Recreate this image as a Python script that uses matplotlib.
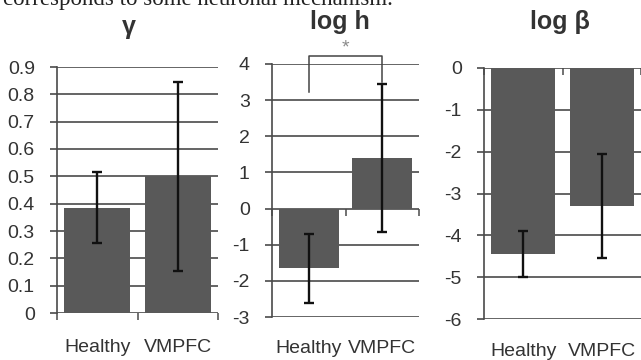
import matplotlib
matplotlib.use("Agg")
import matplotlib.pyplot as plt

# data
groups = ["Healthy", "VMPFC"]
gamma_mean = [0.385, 0.50]
gamma_err = [0.13, 0.345]
logh_mean = [-1.65, 1.40]
logh_err = [0.95, 2.05]
logbeta_mean = [-4.45, -3.30]
logbeta_err = [0.55, 1.25]

gamma_ticks = [0, 0.1, 0.2, 0.3, 0.4, 0.5, 0.6, 0.7, 0.8, 0.9]
logh_ticks = [-3, -2, -1, 0, 1, 2, 3, 4]
logbeta_ticks = [-6, -5, -4, -3, -2, -1, 0]

bar_col = "#595959"
grid_col = "#4a4a4a"
text_col = "#333333"

plt.rcParams["font.family"] = ["Liberation Sans", "DejaVu Sans"]

fig = plt.figure(figsize=(6.41, 3.60), dpi=100)
W, H = 641, 360


def px_axes(left, right, top, bottom):
    return fig.add_axes([left / W, 1 - bottom / H, (right - left) / W, (bottom - top) / H])


def panel(ax, means, errs, ticks, label_pad):
    x = range(len(groups))
    ax.set_axisbelow(True)
    ax.bar(x, means, width=0.82, color=bar_col, zorder=2)
    ax.errorbar(x, means, yerr=errs, fmt="none", ecolor="#111111",
                elinewidth=1.7, capsize=3.8, capthick=1.7, zorder=3)
    ax.set_xlim(-0.5, 1.5)
    ax.set_ylim(ticks[0], ticks[-1])
    ax.set_yticks(ticks)
    ax.set_yticklabels([f"{t:g}" for t in ticks])
    ax.yaxis.grid(True, color=grid_col, lw=1.2)
    ax.tick_params(axis="y", length=5, width=1.2, color=grid_col, pad=11,
                   labelsize=14, labelcolor=text_col)
    ax.set_xticks(list(x))
    ax.set_xticklabels(groups)
    ax.tick_params(axis="x", length=0, pad=label_pad, labelsize=14, labelcolor=text_col)
    for s in ("top", "right", "bottom"):
        ax.spines[s].set_visible(False)
    ax.spines["left"].set_color(grid_col)
    ax.spines["left"].set_linewidth(1.2)
    # category boundary tick marks on the zero line
    ax.plot([-0.5, 0.5, 1.5], [0, 0, 0], ls="none", marker=3, ms=5,
            mew=1.1, color=grid_col, clip_on=False, zorder=4)


ax1 = px_axes(57, 218, 67, 313)
panel(ax1, gamma_mean, gamma_err, gamma_ticks, 19)

ax2 = px_axes(272, 419, 64, 317)
panel(ax2, logh_mean, logh_err, logh_ticks, 16.5)
# significance bracket
ax2.plot([0, 0, 1, 1], [3.22, 4.22, 4.22, 3.5], color="#444444", lw=1.1, clip_on=False)
ax2.text(0.5, 4.45, "*", ha="center", va="center", fontsize=14, color="#8a8a8a")

ax3 = px_axes(484, 641, 68, 319)
panel(ax3, logbeta_mean, logbeta_err, logbeta_ticks, 17)

# panel titles
fig.text(129 / W, 1 - 34 / H, "γ", ha="center", va="baseline",
         fontsize=18, fontweight="bold", color=text_col)
fig.text(340 / W, 1 - 29 / H, "log h", ha="center", va="baseline",
         fontsize=18, fontweight="bold", color=text_col)
fig.text(560 / W, 1 - 29 / H, "log β", ha="center", va="baseline",
         fontsize=18, fontweight="bold", color=text_col)

# clipped line of body text above the figure
fig.text(3 / W, 1 - 5 / H, "corresponds to some neuronal mechanism.",
         ha="left", va="baseline", fontsize=16.5, family="Liberation Serif", color="#222222")

fig.savefig("out.png", dpi=100, facecolor="white")
